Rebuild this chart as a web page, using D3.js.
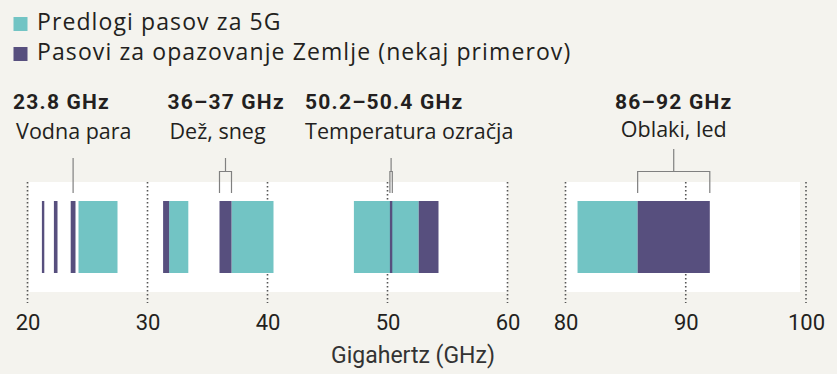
<!DOCTYPE html>
<html><head><meta charset="utf-8">
<script src="https://cdn.jsdelivr.net/npm/d3@7"></script>
<style>
html,body{margin:0;padding:0;background:#f4f3ee;}
svg{display:block;}
</style></head>
<body>
<svg id="chart" width="837" height="374"></svg>
<script>
// ---- data ----
const legendLabels = ["Predlogi pasov za 5G", "Pasovi za opazovanje Zemlje (nekaj primerov)"];
const bands5G = [[24.25, 27.5], [31.8, 33.4], [37, 40.5], [47.2, 52.6], [81, 86]];
const bandsEarth = [[21.2, 21.4], [22.2, 22.5], [23.6, 24.0], [31.3, 31.8], [36, 37], [50.2, 50.4], [52.6, 54.25], [86, 92]];
const ticksLeft = [20, 30, 40, 50, 60];
const ticksRight = [80, 90, 100];
const annotFreq = ["23.8 GHz", "36–37 GHz", "50.2–50.4 GHz", "86–92 GHz"];
const annotDesc = ["Vodna para", "Dež, sneg", "Temperatura ozračja", "Oblaki, led"];
const annotRange = [[23.8, 23.8], [36, 37], [50.2, 50.4], [86, 92]];
const axisTitle = "Gigahertz (GHz)";

// ---- layout ----
const C5G = "#72c4c4", CEARTH = "#574f7e", TEXT = "#231f20", LINE = "#808080";
const svg = d3.select("#chart");
const xL = d3.scaleLinear().domain([20, 60]).range([27.5, 507.5]);
const xR = d3.scaleLinear().domain([80, 100]).range([565.5, 806]);
const xOf = v => (v <= 60 ? xL(v) : xR(v));
const panelTop = 182, panelBot = 292, barTop = 201, barBot = 273, dotBot = 303;

// panels
svg.append("rect").attr("x", xL(20) + 1.5).attr("y", panelTop).attr("width", xL(60) - xL(20) - 1.5).attr("height", panelBot - panelTop).attr("fill", "#fff");
svg.append("rect").attr("x", xR(80)).attr("y", panelTop).attr("width", xR(100) - xR(80) - 6).attr("height", panelBot - panelTop).attr("fill", "#fff");

// dotted gridlines
const grid = svg.append("g");
[[xL, ticksLeft], [xR, ticksRight]].forEach(([sc, t]) => {
  grid.selectAll(null).data(t).enter().append("line")
    .attr("x1", d => sc(d)).attr("x2", d => sc(d))
    .attr("y1", panelTop).attr("y2", dotBot)
    .attr("stroke", "#555").attr("stroke-width", 1.6)
    .attr("stroke-dasharray", "1.4,2.6");
});

// bars
const bars = svg.append("g");
bars.selectAll(".b5").data(bands5G).enter().append("rect")
  .attr("x", d => xOf(d[0])).attr("width", d => xOf(d[1]) - xOf(d[0]))
  .attr("y", barTop).attr("height", barBot - barTop).attr("fill", C5G);
bars.selectAll(".be").data(bandsEarth).enter().append("rect")
  .attr("x", d => xOf(d[0])).attr("width", d => xOf(d[1]) - xOf(d[0]))
  .attr("y", barTop).attr("height", barBot - barTop).attr("fill", CEARTH);

// axes tick labels
const axL = d3.axisBottom(xL).tickValues(ticksLeft).tickSize(0).tickPadding(0);
const axR = d3.axisBottom(xR).tickValues(ticksRight).tickSize(0).tickPadding(0);
[axL, axR].forEach(ax => {
  const g = svg.append("g").attr("transform", "translate(0,314)").call(ax);
  g.select(".domain").remove();
  g.selectAll("text").attr("font-family", "Roboto, 'Liberation Sans', sans-serif")
    .attr("font-size", 22).attr("fill", TEXT).attr("dy", "0.71em");
});
svg.append("text").text(axisTitle).attr("x", 413).attr("y", 363)
  .attr("text-anchor", "middle").attr("font-family", "Roboto, sans-serif")
  .attr("font-size", 23).attr("fill", "#333");

// legend
const lg = svg.append("g");
lg.selectAll("rect").data(legendLabels).enter().append("rect")
  .attr("x", 13.5).attr("y", (d, i) => 17 + i * 30).attr("width", 14).attr("height", 14)
  .attr("fill", (d, i) => i === 0 ? C5G : CEARTH);
lg.selectAll("text").data(legendLabels).enter().append("text")
  .attr("x", 37).attr("y", (d, i) => 30 + i * 30).text(d => d)
  .attr("font-family", "'Open Sans', sans-serif").attr("font-size", 23)
  .attr("letter-spacing", 1.1).attr("fill", TEXT);

// annotations
const labelDx = [-60, -58, -86, 0];
const labelAnchor = ["start", "start", "start", "middle"];
const stemTop = [158, 158, 158, 149];
const ag = svg.append("g");
annotRange.forEach((r, i) => {
  const a = xOf(r[0]), b = xOf(r[1]), m = (a + b) / 2;
  const g = ag.append("g");
  g.append("text").text(annotFreq[i]).attr("x", m + labelDx[i]).attr("y", 109)
    .attr("text-anchor", labelAnchor[i]).attr("font-family", "Roboto, sans-serif")
    .attr("font-weight", 700).attr("font-size", 21).attr("letter-spacing", 1.2).attr("fill", TEXT);
  g.append("text").text(annotDesc[i]).attr("x", m + labelDx[i] + (i === 0 ? 3 : i === 1 ? 2 : 0)).attr("y", i === 3 ? 137 : 139)
    .attr("text-anchor", labelAnchor[i]).attr("font-family", "'Open Sans', sans-serif")
    .attr("font-size", 21.5).attr("fill", TEXT);
  if (r[0] === r[1]) {
    g.append("line").attr("x1", m).attr("x2", m).attr("y1", stemTop[i]).attr("y2", 193)
      .attr("stroke", LINE).attr("stroke-width", 1.2);
  } else {
    g.append("path").attr("fill", "none").attr("stroke", LINE).attr("stroke-width", 1.2)
      .attr("d", `M${m},${stemTop[i]}V171.5M${a},193V171.5H${b}V193`);
  }
});
</script>
</body></html>
